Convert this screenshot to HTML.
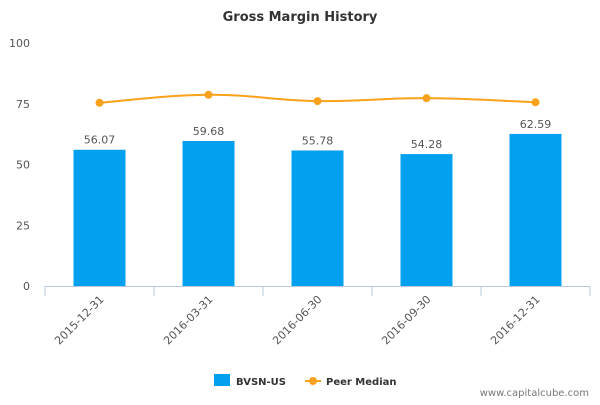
<!DOCTYPE html>
<html><head><meta charset="utf-8"><style>
body{margin:0;background:#fff;}
svg text{font-family:"DejaVu Sans","Liberation Sans",sans-serif;}
</style></head><body>
<svg id="c" width="600" height="400">
<text x="300" y="21" text-anchor="middle" font-size="13" font-weight="bold" fill="#333">Gross Margin History</text>
<g id="yaxis"></g>
<g id="bars"></g>
<g id="xaxis"></g>
<g id="line"></g>
<g>
<rect x="214" y="374" width="16" height="12" fill="#03a0f0"/>
<text x="236" y="385" font-size="10" font-weight="bold" fill="#333">BVSN-US</text>
<line x1="305" y1="381" x2="321" y2="381" stroke="#f8a21c" stroke-width="2"/>
<circle cx="313" cy="381" r="4" fill="#f8a21c"/>
<text x="326" y="385" font-size="10" font-weight="bold" fill="#333">Peer Median</text>
</g>
<text x="589" y="396" text-anchor="end" font-size="10" fill="#777">www.capitalcube.com</text>
</svg>
<script>
const categories=["2015-12-31","2016-03-31","2016-06-30","2016-09-30","2016-12-31"];
const barValues=[56.07,59.68,55.78,54.28,62.59];
const peerValues=[75.4,78.7,76.1,77.3,75.6];
const yTicks=[0,25,50,75,100];
const NS="http://www.w3.org/2000/svg";
const x0=45,x1=590,y0=286,y100=43;
const bw=(x1-x0)/categories.length;
const X=i=>x0+bw*(i+0.5);
const Y=v=>y0-(v/100)*(y0-y100);
function mk(t,a,p){const e=document.createElementNS(NS,t);for(const k in a)e.setAttribute(k,a[k]);p.appendChild(e);return e;}
const ya=document.getElementById('yaxis');
yTicks.forEach(t=>{const e=mk('text',{x:30,y:Y(t)+4,'text-anchor':'end','font-size':11,fill:'#555'},ya);


e.textContent=t;});
const bg=document.getElementById('bars');
barValues.forEach((v,i)=>{const r=mk('rect',{x:X(i)-26,y:Y(v),width:52,height:y0-Y(v),fill:'#03a0f0'},bg);


const t=mk('text',{x:X(i),y:Y(v)-6,'text-anchor':'middle','font-size':11,fill:'#555'},bg);


t.textContent=v.toFixed(2);});
const xa=document.getElementById('xaxis');
mk('line',{x1:x0,y1:y0+0.5,x2:x1,y2:y0+0.5,stroke:'#b8c8dc'},xa);
for(let i=0;i<=categories.length;i++)mk('line',{x1:x0+bw*i,y1:y0,x2:x0+bw*i,y2:y0+10,stroke:'#b8c8dc'},xa);
categories.forEach((c,i)=>{const t=mk('text',{x:X(i)+5,y:y0+14,'text-anchor':'end','font-size':11,fill:'#555',transform:`rotate(-45 ${X(i)+5} ${y0+14})`},xa);


t.textContent=c;});
const lg=document.getElementById('line');
const pts=peerValues.map((v,i)=>[X(i),Y(v)]);
let d=`M${pts[0][0]},${pts[0][1]}`;
for(let i=0;i<pts.length-1;i++){const p0=pts[i-1]||pts[i],p1=pts[i],p2=pts[i+1],p3=pts[i+2]||p2;const k=0.2;
d+=` C${p1[0]+(p2[0]-p0[0])*k},${p1[1]+(p2[1]-p0[1])*k} ${p2[0]-(p3[0]-p1[0])*k},${p2[1]-(p3[1]-p1[1])*k} ${p2[0]},${p2[1]}`;}
const path=mk('path',{d:d,fill:'none',stroke:'#f8a21c','stroke-width':2},lg);


pts.forEach((p,i)=>{const c=mk('circle',{cx:p[0],cy:p[1],r:4,fill:'#f8a21c'},lg);

});
</script>
</body></html>
